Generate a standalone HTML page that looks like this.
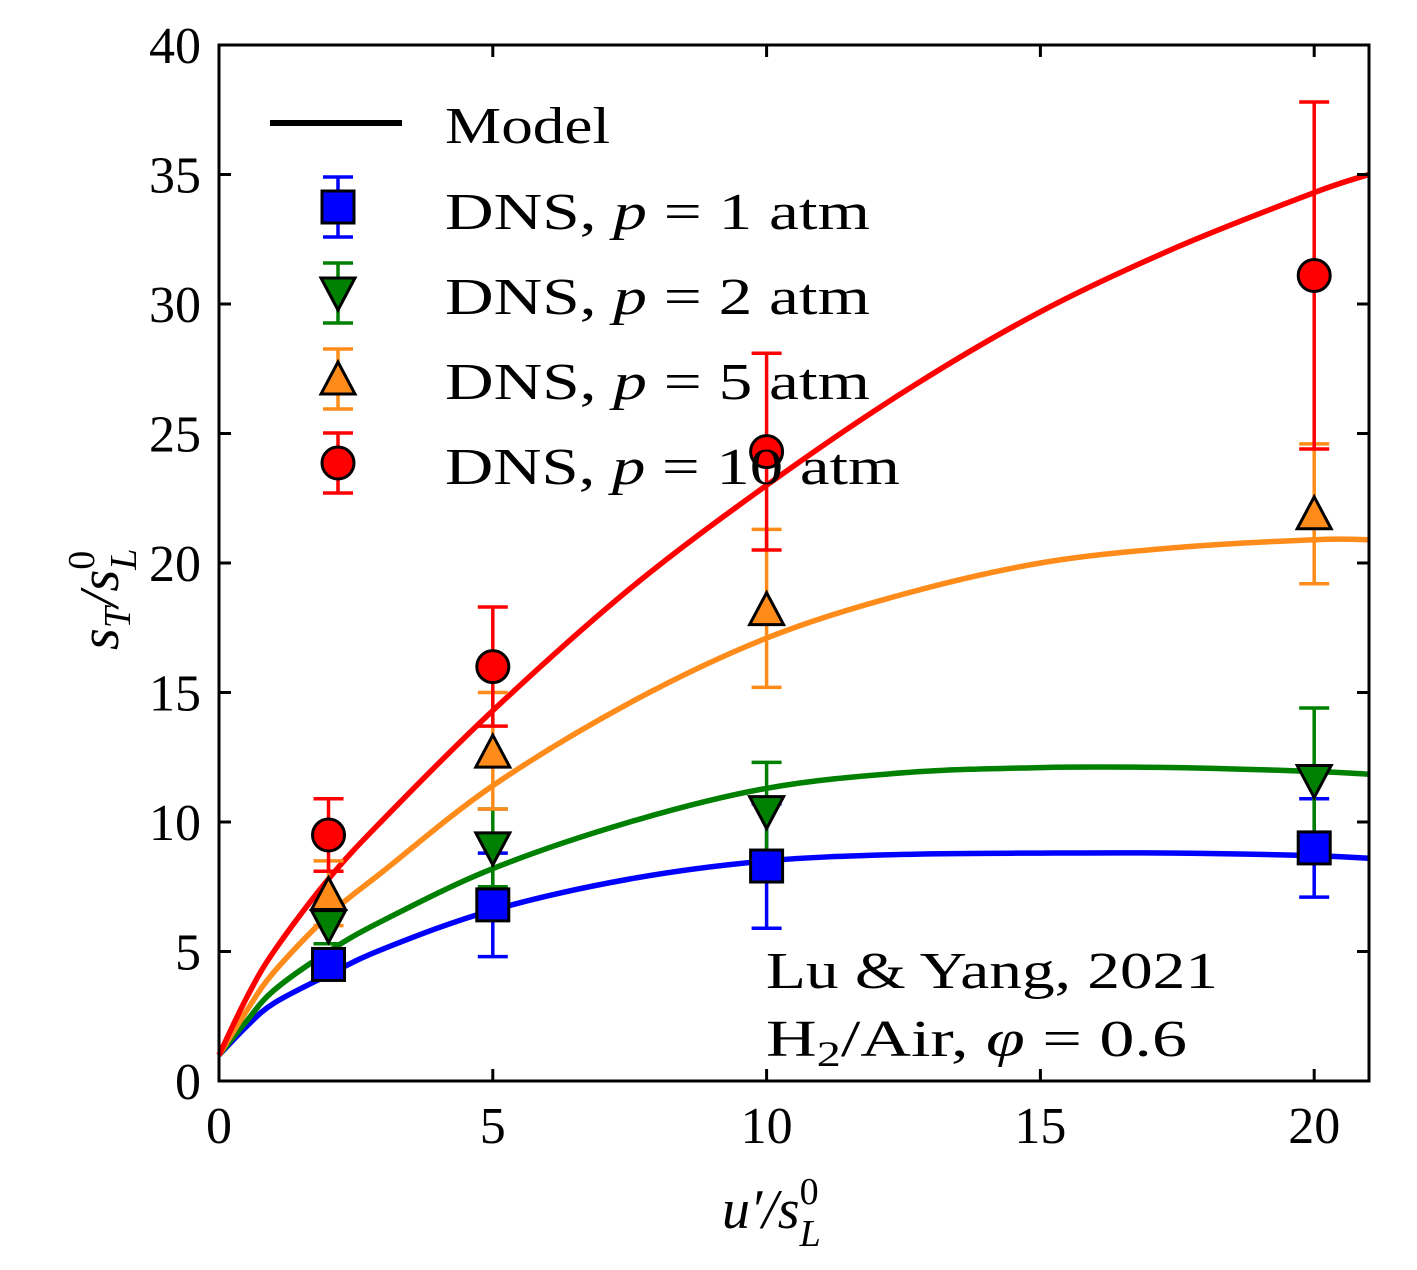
<!DOCTYPE html>
<html><head><meta charset="utf-8"><style>
html,body{margin:0;padding:0;background:#fff;}
svg{display:block;font-family:"Liberation Serif",serif;}
</style></head><body>
<svg id="chart" width="1417" height="1270" viewBox="0 0 1417 1270" xmlns="http://www.w3.org/2000/svg">
<g id="curves"></g>
<g id="errs"></g>
<g id="marks"></g>
<rect x="219" y="45" width="1150" height="1036" fill="none" stroke="#000" stroke-width="3"/>
<g id="ticks"></g>
<text x="722" y="1228" font-size="56" font-style="italic">u′/s<tspan font-size="38" dy="-24" font-style="normal">0</tspan><tspan font-size="38" dx="-19" dy="42">L</tspan></text>
<text transform="translate(118,650) rotate(-90)" font-size="56" font-style="italic">s<tspan font-size="38" dy="12">T</tspan><tspan dy="-12">/s</tspan><tspan font-size="38" dy="-24" font-style="normal">0</tspan><tspan font-size="38" dx="-19" dy="42">L</tspan></text>
<g font-size="52">
<line x1="270" y1="123" x2="402" y2="123" stroke="#000" stroke-width="6"/>
<text x="445" y="143" textLength="165" lengthAdjust="spacingAndGlyphs">Model</text>
<text x="445" y="229" textLength="425" lengthAdjust="spacingAndGlyphs">DNS, <tspan font-style="italic">p</tspan> = 1 atm</text>
<text x="445" y="314" textLength="425" lengthAdjust="spacingAndGlyphs">DNS, <tspan font-style="italic">p</tspan> = 2 atm</text>
<text x="445" y="399" textLength="425" lengthAdjust="spacingAndGlyphs">DNS, <tspan font-style="italic">p</tspan> = 5 atm</text>
<text x="445" y="484" textLength="455" lengthAdjust="spacingAndGlyphs">DNS, <tspan font-style="italic">p</tspan> = 10 atm</text>
<g id="legmarks"></g>
</g>
<text x="766" y="988" font-size="52" textLength="452" lengthAdjust="spacingAndGlyphs">Lu &amp; Yang, 2021</text>
<text x="766" y="1056" font-size="52" textLength="421" lengthAdjust="spacingAndGlyphs">H<tspan font-size="36" dy="10">2</tspan><tspan dy="-10">/Air, </tspan><tspan font-style="italic">φ</tspan> = 0.6</text>
</svg>
<script>
const xTicks=[0,5,10,20,15];
const yTicks=[0,5,10,15,20,25,30,35,40];
const xPts=[2,5,10,20];
const p1Vals=[4.5,6.8,8.3,9.0];
const p1Lo=[4.0,4.8,5.9,7.1];
const p1Hi=[5.0,8.8,10.7,10.9];
const p2Vals=[6.0,9.0,10.4,11.6];
const p2Lo=[5.3,7.5,8.5,8.8];
const p2Hi=[6.7,10.5,12.3,14.4];
const p5Vals=[7.2,12.7,18.2,21.9];
const p5Lo=[6.0,10.5,15.2,19.2];
const p5Hi=[8.5,15.0,21.3,24.6];
const p10Vals=[9.5,16.0,24.3,31.1];
const p10Lo=[8.1,13.7,20.5,24.4];
const p10Hi=[10.9,18.3,28.1,37.8];
const modelX=[0,0.5,1,2,3,5,7.5,10,12.5,15,17.5,20,21];
const model1=[1,2.1,3.0,4.1,5.1,6.6,7.8,8.5,8.75,8.8,8.8,8.7,8.6];
const model2=[1,2.3,3.5,5.0,6.2,8.2,10.0,11.3,11.9,12.1,12.1,11.95,11.85];
const model5=[1,2.7,4.2,6.4,8.1,11.4,14.6,17.1,18.8,20.0,20.6,20.9,20.9];
const model10=[1,3.2,5.0,7.8,10.1,14.3,19.0,23.0,26.6,29.7,32.2,34.3,35.0];
const X=v=>219+v*54.76, Y=v=>1081-v*25.9;
const NS="http://www.w3.org/2000/svg";
function mk(t,a,p){const e=document.createElementNS(NS,t);for(const k in a)e.setAttribute(k,a[k]);p.appendChild(e);return e;}
const ticks=document.getElementById('ticks');
xTicks.forEach(v=>{
 let l=mk('line',{x1:X(v),x2:X(v),y1:1081,y2:1069,stroke:'#000','stroke-width':3},ticks);
 
 
 let l2=mk('line',{x1:X(v),x2:X(v),y1:45,y2:57,stroke:'#000','stroke-width':3},ticks);
 
 
 let t=mk('text',{x:X(v),y:1143,'font-size':52,'text-anchor':'middle'},ticks);t.textContent=v;
 
 
});
yTicks.forEach(v=>{
 let l=mk('line',{x1:219,x2:231,y1:Y(v),y2:Y(v),stroke:'#000','stroke-width':3},ticks);
 
 
 let l2=mk('line',{x1:1357,x2:1369,y1:Y(v),y2:Y(v),stroke:'#000','stroke-width':3},ticks);
 
 
 let t=mk('text',{x:201,y:Y(v)+18,'font-size':52,'text-anchor':'end'},ticks);t.textContent=v;
 
 
});
const series=[
 {name:'p1',c:'#0000ff',cl:'#0000ff',v:p1Vals,lo:p1Lo,hi:p1Hi,m:model1,s:'sq',ly:207},
 {name:'p2',c:'#008000',cl:'#008000',v:p2Vals,lo:p2Lo,hi:p2Hi,m:model2,s:'tv',ly:293},
 {name:'p5',c:'#ff8c1a',cl:'#ff8c1a',v:p5Vals,lo:p5Lo,hi:p5Hi,m:model5,s:'ta',ly:379},
 {name:'p10',c:'#ff0000',cl:'#ff0000',v:p10Vals,lo:p10Lo,hi:p10Hi,m:model10,s:'ci',ly:463}];
const cg=document.getElementById('curves'),eg=document.getElementById('errs'),mg=document.getElementById('marks'),lg=document.getElementById('legmarks');
function marker(s,x,y,c,p){
 if(s==='sq')return mk('rect',{x:x-16,y:y-16,width:32,height:32,fill:c,stroke:'#000','stroke-width':3},p);
 if(s==='ci')return mk('circle',{cx:x,cy:y,r:16,fill:c,stroke:'#000','stroke-width':3},p);
 if(s==='tv')return mk('polygon',{points:`${x-17},${y-15} ${x+17},${y-15} ${x},${y+17}`,fill:c,stroke:'#000','stroke-width':3},p);
 return mk('polygon',{points:`${x-17},${y+15} ${x+17},${y+15} ${x},${y-17}`,fill:c,stroke:'#000','stroke-width':3},p);
}
function ebar(x,y1,y2,c,p){
 mk('line',{x1:x,x2:x,y1:y1,y2:y2,stroke:c,'stroke-width':3.5},p);
 mk('line',{x1:x-15,x2:x+15,y1:y1,y2:y1,stroke:c,'stroke-width':3.5},p);
 mk('line',{x1:x-15,x2:x+15,y1:y2,y2:y2,stroke:c,'stroke-width':3.5},p);
}
function smooth(pts){
 let d='M'+pts[0][0].toFixed(1)+','+pts[0][1].toFixed(1);
 for(let i=0;i<pts.length-1;i++){
  const p0=pts[Math.max(i-1,0)],p1=pts[i],p2=pts[i+1],p3=pts[Math.min(i+2,pts.length-1)];
  const c1=[p1[0]+(p2[0]-p0[0])/6,p1[1]+(p2[1]-p0[1])/6];
  const c2=[p2[0]-(p3[0]-p1[0])/6,p2[1]-(p3[1]-p1[1])/6];
  d+=` C${c1[0].toFixed(1)},${c1[1].toFixed(1)} ${c2[0].toFixed(1)},${c2[1].toFixed(1)} ${p2[0].toFixed(1)},${p2[1].toFixed(1)}`;
 }
 return d;
}
series.forEach(s=>{
 const pts=modelX.map((x,i)=>[X(x),Y(s.m[i])]);
 let p=mk('path',{d:smooth(pts),fill:'none',stroke:s.cl,'stroke-width':5.5,'stroke-linejoin':'round'},cg);
 
 
});
series.forEach(s=>{
 xPts.forEach((x,i)=>{
  let g=mk('g',{},eg);
  
  
  ebar(X(x),Y(s.lo[i]),Y(s.hi[i]),s.c,g);
  let m=marker(s.s,X(x),Y(s.v[i]),s.c,mg);
  
  
 });
 let g=mk('g',{},lg);
 
 
 ebar(338,s.ly-30,s.ly+30,s.c,g);
 marker(s.s,338,s.ly,s.c,g);
});
</script>
</body></html>
